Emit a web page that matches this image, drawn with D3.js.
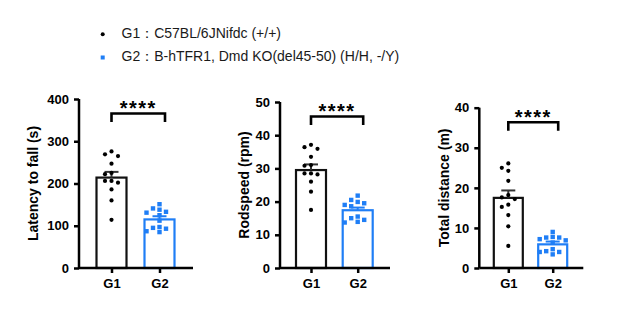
<!DOCTYPE html>
<html><head><meta charset="utf-8">
<script src="https://cdn.jsdelivr.net/npm/d3@7/dist/d3.min.js"></script>
<style>
html,body{margin:0;padding:0;background:#fff;}
svg{display:block;font-family:"Liberation Sans",Arial,sans-serif;}
</style></head>
<body><svg id="chart" width="638" height="324"></svg>
<script>
// ---- data ----
const groups = ["G1", "G2"];
const legendLabels = ["G1\uFF1AC57BL/6JNifdc (+/+)", "G2\uFF1AB-hTFR1, Dmd KO(del45-50) (H/H, -/Y)"];
const yTitles = ["Latency to fall (s)", "Rodspeed (rpm)", "Total distance (m)"];
const starLabel = "****";

const latencyG1 = [276, 269, 265, 247, 225, 222, 206, 206, 202, 186, 160, 114];
const latencyG2 = [151, 141, 138, 133, 131, 125, 112, 97, 95, 93, 87, 85];
const latencyMean = [214, 115];
const latencySEM = [13.5, 7.5];
const latencyTicks = [0, 100, 200, 300, 400];

const rodG1 = [37.1, 36.4, 35.9, 33.5, 31.0, 30.8, 28.5, 28.5, 28.2, 26.0, 23.0, 17.5];
const rodG2 = [21.8, 20.5, 19.9, 19.5, 19.0, 18.6, 15.5, 15.0, 14.5, 13.9, 13.7];
const rodMean = [29.5, 17.4];
const rodSEM = [1.7, 0.8];
const rodTicks = [0, 10, 20, 30, 40, 50];

const distG1 = [26.1, 25.0, 24.25, 21.75, 18.2, 17.6, 17.2, 15.8, 15.25, 13.2, 10.4, 5.5];
const distG2 = [9.0, 7.75, 7.6, 7.6, 7.2, 6.9, 6.35, 4.7, 4.2, 4.0, 4.0, 3.4];
const distMean = [17.5, 5.9];
const distSEM = [1.85, 0.7];
const distTicks = [0, 10, 20, 30, 40];

// ---- layout ----
const BLUE = "#1f7ef6";
const svg = d3.select("#chart");

const panels = [
  {left: 79, len: 114, c1: 32.5, c2: 80.5, top: 99, bottom: 268, max: 400, ticks: latencyTicks,
   pts: [latencyG1, latencyG2], mean: latencyMean, sem: latencySEM, title: yTitles[0], titleX: 33, bw: 30},
  {left: 280, len: 110, c1: 31, c2: 77.7, top: 102, bottom: 268, max: 50, ticks: rodTicks,
   pts: [rodG1, rodG2], mean: rodMean, sem: rodSEM, title: yTitles[1], titleX: 243.5, bw: 30},
  {left: 479.3, len: 104, c1: 29, c2: 73.4, top: 107.7, bottom: 268, max: 40, ticks: distTicks,
   pts: [distG1, distG2], mean: distMean, sem: distSEM, title: yTitles[2], titleX: 443.5, bw: 29}
];

function swarm(vals, y, colW, thresh) {
  const order = vals.map((v, i) => i).sort((a, b) => vals[b] - vals[a]);
  const placed = [];
  const out = new Array(vals.length);
  const cols = [0, -1, 1, -2, 2, -3, 3];
  order.forEach(i => {
    const yy = y(vals[i]);
    for (const k of cols) {
      if (!placed.some(p => p.k === k && Math.abs(p.y - yy) < thresh)) {
        placed.push({k, y: yy});
        out[i] = {y: yy, dx: k * colW};
        break;
      }
    }
  });
  return out;
}

panels.forEach(p => {
  const g = svg.append("g");
  const y = d3.scaleLinear().domain([0, p.max]).range([p.bottom, p.top]);
  const x = d3.scalePoint().domain(groups).range([p.left + p.c1, p.left + p.c2]);

  // bars
  groups.forEach((grp, gi) => {
    const cx = x(grp);
    g.append("rect")
      .attr("x", cx - p.bw / 2).attr("y", y(p.mean[gi]))
      .attr("width", p.bw).attr("height", p.bottom - y(p.mean[gi]))
      .attr("fill", "#fff").attr("stroke", gi === 0 ? "#111" : BLUE).attr("stroke-width", 2.2);
    // error bar
    const ec = gi === 0 ? "#333" : BLUE;
    g.append("line").attr("x1", cx).attr("x2", cx)
      .attr("y1", y(p.mean[gi])).attr("y2", y(p.mean[gi] + p.sem[gi]))
      .attr("stroke", ec).attr("stroke-width", 2);
    g.append("line").attr("x1", cx - 7).attr("x2", cx + 7)
      .attr("y1", y(p.mean[gi] + p.sem[gi])).attr("y2", y(p.mean[gi] + p.sem[gi]))
      .attr("stroke", ec).attr("stroke-width", 2);
  });

  // points
  groups.forEach((grp, gi) => {
    const cx = x(grp);
    const pos = swarm(p.pts[gi], y, 6.5, 5);
    if (gi === 0) {
      g.selectAll(null).data(pos).enter().append("circle")
        .attr("cx", d => cx + d.dx).attr("cy", d => d.y).attr("r", 2.1).attr("fill", "#000");
    } else {
      g.selectAll(null).data(pos).enter().append("rect")
        .attr("x", d => cx + d.dx - 2.2).attr("y", d => d.y - 2.2)
        .attr("width", 4.4).attr("height", 4.4).attr("fill", BLUE);
    }
  });

  // y axis
  const yAxis = d3.axisLeft(y).tickValues(p.ticks).tickSize(5).tickPadding(5);
  const ya = g.append("g").attr("transform", `translate(${p.left},0)`).call(yAxis);
  ya.select(".domain").attr("d", `M0,${p.top}V${p.bottom}`).attr("stroke", "#000").attr("stroke-width", 2.5);
  ya.selectAll(".tick line").attr("stroke", "#000").attr("stroke-width", 2.5);
  ya.selectAll(".tick text").attr("font-size", 13).attr("font-weight", "bold")
    .attr("font-family", "Liberation Sans, Arial, sans-serif").attr("fill", "#000");

  // x axis
  const xAxis = d3.axisBottom(x).tickSize(5).tickPadding(6);
  const xa = g.append("g").attr("transform", `translate(0,${p.bottom})`).call(xAxis);
  xa.select(".domain").attr("d", `M${p.left},0H${p.left + p.len}`).attr("stroke", "#000").attr("stroke-width", 2.5);
  xa.selectAll(".tick line").attr("stroke", "#000").attr("stroke-width", 2.5);
  xa.selectAll(".tick text").attr("font-size", 13).attr("font-weight", "bold")
    .attr("font-family", "Liberation Sans, Arial, sans-serif").attr("fill", "#000");

  // y title
  g.append("text")
    .attr("transform", `translate(${p.titleX},${(p.top + p.bottom) / 2}) rotate(-90)`)
    .attr("text-anchor", "middle").attr("dominant-baseline", "central")
    .attr("font-size", 14).attr("font-weight", "bold").attr("fill", "#000")
    .text(p.title);

  // significance bracket
  const bx1 = x(groups[0]), bx2 = x(groups[1]) + 5.5;
  const by = p.top + 14.5;
  g.append("path")
    .attr("d", `M${bx1},${by + 8.5}V${by}H${bx2}V${by + 8.5}`)
    .attr("fill", "none").attr("stroke", "#000").attr("stroke-width", 2.6);
  g.append("text")
    .attr("x", (bx1 + bx2) / 2).attr("y", by + 1.5)
    .attr("text-anchor", "middle").attr("font-size", 20).attr("font-weight", "bold")
    .attr("letter-spacing", 1.5).attr("fill", "#000")
    .text(starLabel);
});

// legend
const lg = svg.append("g");
legendLabels.forEach((lab, i) => {
  const ly = 33 + i * 23;
  if (i === 0) {
    lg.append("circle").attr("cx", 102.7).attr("cy", ly + 1.3).attr("r", 2).attr("fill", "#000");
  } else {
    lg.append("rect").attr("x", 100.7).attr("y", ly - 0.5).attr("width", 4).attr("height", 4).attr("fill", BLUE);
  }
  lg.append("text").attr("x", 121.5).attr("y", ly + 5)
    .attr("font-size", 14).attr("fill", "#1a1a1a").text(lab);
});
</script>
</body></html>
